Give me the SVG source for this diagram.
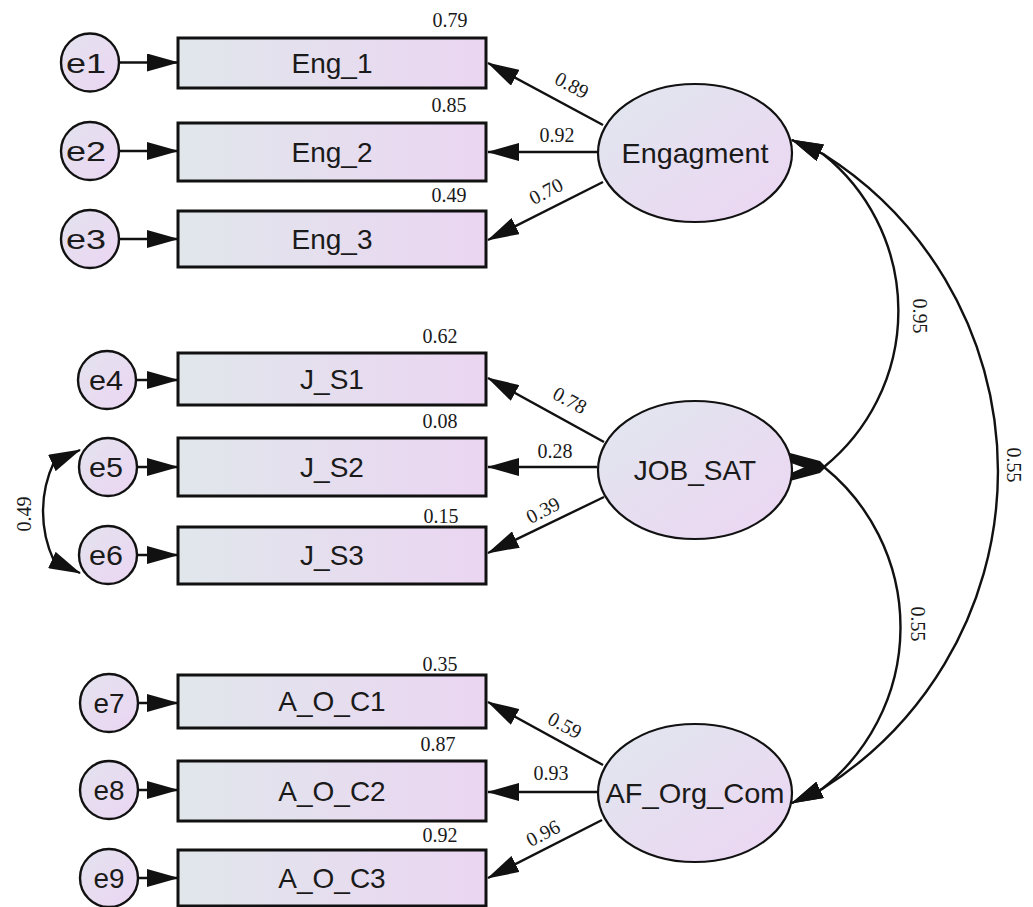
<svg xmlns="http://www.w3.org/2000/svg" width="1033" height="907" viewBox="0 0 1033 907">
<style>
.box{stroke:#111;stroke-width:3;fill:url(#gBox)}
.lat{stroke:#111;stroke-width:2.2;fill:url(#gLat)}
.err{stroke:#111;stroke-width:2.4;fill:url(#gErr)}
.lbl{font-family:"Liberation Sans",Arial,sans-serif;font-size:28px;fill:#1a1a1a;text-anchor:middle}
.num{font-family:"Liberation Serif","Times New Roman",serif;font-size:20px;fill:#1a1a1a;text-anchor:middle}
.ln{stroke:#111;stroke-width:2.4;fill:none}
.arr{marker-end:url(#ah)}
.wedge{fill:#111}
</style>
<defs>
<linearGradient id="gBox" x1="0" y1="0" x2="1" y2="0">
<stop offset="0" stop-color="#e0e7eb"/>
<stop offset="1" stop-color="#ebd5f2"/>
</linearGradient>
<linearGradient id="gLat" x1="0" y1="0" x2="1" y2="1">
<stop offset="0" stop-color="#e0e7ee"/>
<stop offset="1" stop-color="#edd5f3"/>
</linearGradient>
<linearGradient id="gErr" x1="0" y1="0" x2="1" y2="1">
<stop offset="0" stop-color="#e3e3ee"/>
<stop offset="1" stop-color="#ecd5f3"/>
</linearGradient>
<marker id="ah" viewBox="0 0 32 18" markerUnits="userSpaceOnUse" markerWidth="32" markerHeight="18" refX="31" refY="9" orient="auto">
<path d="M0,0 L32,9 L0,18 Z" fill="#111"/>
</marker>
<marker id="ahs" viewBox="0 0 32 18" markerUnits="userSpaceOnUse" markerWidth="32" markerHeight="18" refX="31" refY="9" orient="auto-start-reverse">
<path d="M0,0 L32,9 L0,18 Z" fill="#111"/>
</marker>
</defs>
<rect width="1033" height="907" fill="#ffffff"/>

<g id="connectors">
<!-- error to indicator -->
<line class="ln arr" x1="119" y1="62.5" x2="178" y2="62.5"/>
<line class="ln arr" x1="119" y1="151" x2="178" y2="151"/>
<line class="ln arr" x1="119" y1="239" x2="178" y2="239"/>
<line class="ln arr" x1="136" y1="380" x2="178" y2="380"/>
<line class="ln arr" x1="137" y1="467" x2="178" y2="467"/>
<line class="ln arr" x1="137" y1="555" x2="178" y2="555"/>
<line class="ln arr" x1="138" y1="703" x2="178" y2="703"/>
<line class="ln arr" x1="138" y1="790" x2="178" y2="790"/>
<line class="ln arr" x1="138" y1="878" x2="178" y2="878"/>
<!-- loadings -->
<line class="ln arr" x1="603" y1="125" x2="488" y2="63"/>
<line class="ln arr" x1="597" y1="152" x2="488" y2="152"/>
<line class="ln arr" x1="603" y1="182" x2="488" y2="240"/>
<line class="ln arr" x1="604" y1="442" x2="488" y2="378"/>
<line class="ln arr" x1="597" y1="467" x2="488" y2="467"/>
<line class="ln arr" x1="604" y1="497" x2="488" y2="553"/>
<line class="ln arr" x1="603" y1="765" x2="488" y2="702"/>
<line class="ln arr" x1="598" y1="792" x2="488" y2="792"/>
<line class="ln arr" x1="602" y1="820" x2="488" y2="878"/>
<!-- covariances -->
<path class="ln" marker-start="url(#ahs)" d="M792 140 L823 154 A201 201 0 0 1 824 467"/>
<path class="ln" marker-start="url(#ahs)" marker-end="url(#ah)" d="M792 140 L823 154 A375 375 0 0 1 822 789 L792 803"/>
<path class="ln" marker-end="url(#ah)" d="M824 467 A206 206 0 0 1 822 789 L792 803"/>
<polygon class="wedge" points="790,453 820,461 826,467 805,468 791,463"/>
<polygon class="wedge" points="790,481 820,473 826,467 805,467 791,473"/>
<path class="ln" marker-start="url(#ahs)" marker-end="url(#ah)" d="M80 450 L54 462 A117 117 0 0 0 54 561 L80 573"/>
<!-- labels -->
<text class="num" x="450" y="27">0.79</text>
<text class="num" x="449" y="112">0.85</text>
<text class="num" x="449" y="202">0.49</text>
<text class="num" x="440" y="343">0.62</text>
<text class="num" x="440" y="428">0.08</text>
<text class="num" x="441" y="523">0.15</text>
<text class="num" x="440" y="671">0.35</text>
<text class="num" x="438" y="751">0.87</text>
<text class="num" x="440" y="842">0.92</text>
<text class="num" transform="translate(572,85) rotate(28)" y="7">0.89</text>
<text class="num" x="557" y="142">0.92</text>
<text class="num" transform="translate(546,191) rotate(-27)" y="7">0.70</text>
<text class="num" transform="translate(570,400) rotate(29)" y="7">0.78</text>
<text class="num" x="555" y="458">0.28</text>
<text class="num" transform="translate(543,510) rotate(-27)" y="7">0.39</text>
<text class="num" transform="translate(565,725) rotate(28)" y="7">0.59</text>
<text class="num" x="551" y="780">0.93</text>
<text class="num" transform="translate(543,833) rotate(-27)" y="7">0.96</text>
<text class="num" transform="translate(920,316) rotate(90)" y="7">0.95</text>
<text class="num" transform="translate(1014,465) rotate(90)" y="7">0.55</text>
<text class="num" transform="translate(918,624) rotate(90)" y="7">0.55</text>
<text class="num" transform="translate(24,514) rotate(-90)" y="7">0.49</text>
</g>

<g id="Eng_1"><rect class="box" x="178" y="38" width="308" height="50"/><text class="lbl" x="332" y="73">Eng_1</text></g>
<g id="Eng_2"><rect class="box" x="178" y="123" width="308" height="58"/><text class="lbl" x="332" y="162">Eng_2</text></g>
<g id="Eng_3"><rect class="box" x="178" y="211" width="308" height="56"/><text class="lbl" x="332" y="249">Eng_3</text></g>
<g id="J_S1"><rect class="box" x="178" y="353" width="308" height="52"/><text class="lbl" x="332" y="389">J_S1</text></g>
<g id="J_S2"><rect class="box" x="178" y="438" width="308" height="58"/><text class="lbl" x="332" y="477">J_S2</text></g>
<g id="J_S3"><rect class="box" x="178" y="527" width="308" height="57"/><text class="lbl" x="332" y="565">J_S3</text></g>
<g id="A_O_C1"><rect class="box" x="178" y="675" width="308" height="53"/><text class="lbl" x="332" y="711">A_O_C1</text></g>
<g id="A_O_C2"><rect class="box" x="178" y="761" width="308" height="60"/><text class="lbl" x="332" y="801">A_O_C2</text></g>
<g id="A_O_C3"><rect class="box" x="178" y="850" width="308" height="56"/><text class="lbl" x="332" y="888">A_O_C3</text></g>

<g id="Engagment"><ellipse class="lat" cx="695" cy="153" rx="97" ry="69"/><text class="lbl" x="695" y="163" textLength="147" lengthAdjust="spacingAndGlyphs">Engagment</text></g>
<g id="JOB_SAT"><ellipse class="lat" cx="695" cy="470" rx="97" ry="69"/><text class="lbl" x="695" y="480">JOB_SAT</text></g>
<g id="AF_Org_Com"><ellipse class="lat" cx="695" cy="793" rx="97" ry="69"/><text class="lbl" x="695" y="803" textLength="179" lengthAdjust="spacingAndGlyphs">AF_Org_Com</text></g>

<g id="e1"><circle class="err" cx="90" cy="62.5" r="29"/><text class="lbl" x="86" y="72.5" textLength="40" lengthAdjust="spacingAndGlyphs">e1</text></g>
<g id="e2"><circle class="err" cx="90" cy="151" r="29"/><text class="lbl" x="86" y="161" textLength="40" lengthAdjust="spacingAndGlyphs">e2</text></g>
<g id="e3"><circle class="err" cx="90" cy="239" r="29"/><text class="lbl" x="86" y="249" textLength="40" lengthAdjust="spacingAndGlyphs">e3</text></g>
<g id="e4"><circle class="err" cx="107" cy="380" r="29"/><text class="lbl" x="106" y="390" textLength="34" lengthAdjust="spacingAndGlyphs">e4</text></g>
<g id="e5"><circle class="err" cx="108" cy="467" r="29"/><text class="lbl" x="106" y="477" textLength="34" lengthAdjust="spacingAndGlyphs">e5</text></g>
<g id="e6"><circle class="err" cx="108" cy="555" r="29"/><text class="lbl" x="106" y="565" textLength="34" lengthAdjust="spacingAndGlyphs">e6</text></g>
<g id="e7"><circle class="err" cx="109" cy="703" r="29"/><text class="lbl" x="109" y="713" textLength="31" lengthAdjust="spacingAndGlyphs">e7</text></g>
<g id="e8"><circle class="err" cx="109" cy="790" r="29"/><text class="lbl" x="109" y="800" textLength="31" lengthAdjust="spacingAndGlyphs">e8</text></g>
<g id="e9"><circle class="err" cx="109" cy="878" r="29"/><text class="lbl" x="109" y="888" textLength="31" lengthAdjust="spacingAndGlyphs">e9</text></g>
</svg>
